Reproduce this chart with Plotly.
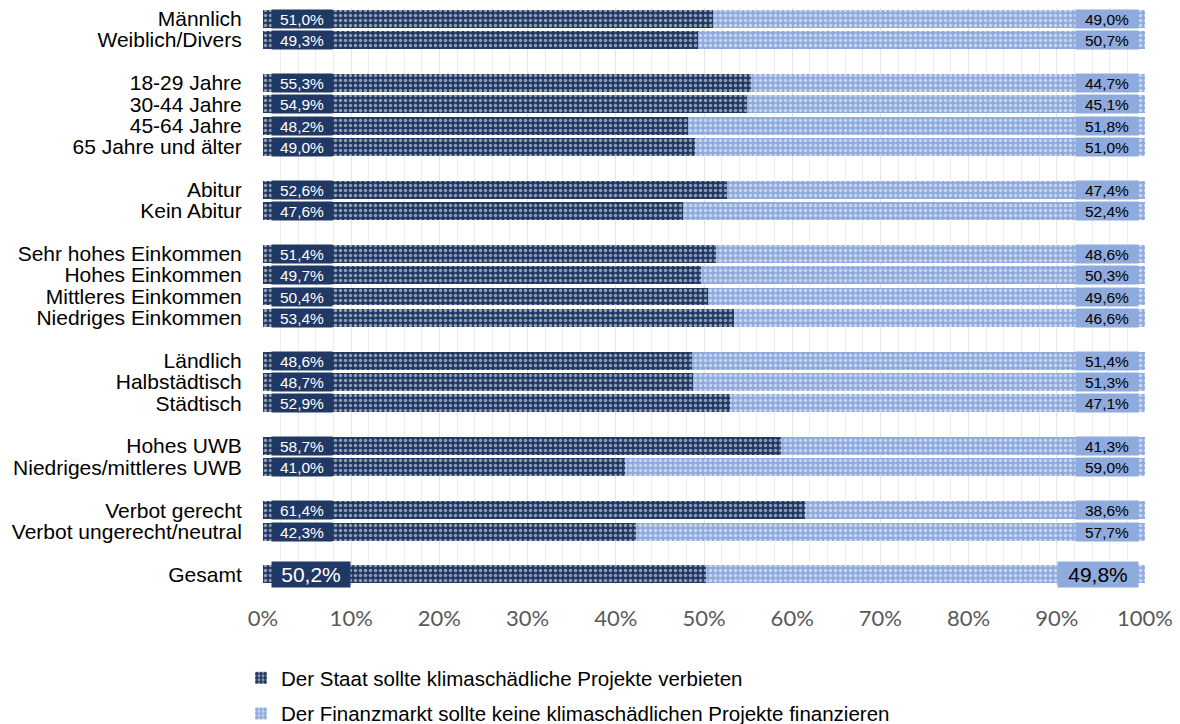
import plotly.graph_objects as go

categories = ["Männlich", "Weiblich/Divers",
              "18-29 Jahre", "30-44 Jahre", "45-64 Jahre", "65 Jahre und älter",
              "Abitur", "Kein Abitur",
              "Sehr hohes Einkommen", "Hohes Einkommen", "Mittleres Einkommen", "Niedriges Einkommen",
              "Ländlich", "Halbstädtisch", "Städtisch",
              "Hohes UWB", "Niedriges/mittleres UWB",
              "Verbot gerecht", "Verbot ungerecht/neutral",
              "Gesamt"]
group_sizes = [2, 4, 2, 4, 3, 2, 2, 1]
staat = [51.0, 49.3, 55.3, 54.9, 48.2, 49.0, 52.6, 47.6, 51.4, 49.7, 50.4, 53.4,
         48.6, 48.7, 52.9, 58.7, 41.0, 61.4, 42.3, 50.2]
finanz = [49.0, 50.7, 44.7, 45.1, 51.8, 51.0, 47.4, 52.4, 48.6, 50.3, 49.6, 46.6,
          51.4, 51.3, 47.1, 41.3, 59.0, 38.6, 57.7, 49.8]
series_names = ["Der Staat sollte klimaschädliche Projekte verbieten",
                "Der Finanzmarkt sollte keine klimaschädlichen Projekte finanzieren"]
xticks = [0, 10, 20, 30, 40, 50, 60, 70, 80, 90, 100]
xtick_labels = [f"{v}%" for v in xticks]

NAVY = "#203864"
LIGHT = "#8FAADC"
FONT = "Arial, Liberation Sans"

# figure is placed 8px from the page corner (default body margin)
W, H = 1172, 716

# slot positions (blank slot between groups)
pos = []
slot = 0
for n in group_sizes:
    for _ in range(n):
        pos.append(slot)
        slot += 1
    slot += 1
last = pos[-1]

def fmt(v):
    return f"{v:.1f}".replace(".", ",") + "%"

fig = go.Figure()
fig.add_trace(go.Bar(
    y=pos, x=staat, orientation="h", name=series_names[0], width=0.84,
    legendgroup="a",
    marker=dict(color=NAVY, line=dict(width=0),
                pattern=dict(shape=".", bgcolor=NAVY, fgcolor="white", size=5, solidity=0.38)),
    hoverinfo="skip"))
fig.add_trace(go.Bar(
    y=pos, x=finanz, orientation="h", name=series_names[1], width=0.84,
    legendgroup="b",
    marker=dict(color=LIGHT, line=dict(width=0),
                pattern=dict(shape=".", bgcolor=LIGHT, fgcolor="white", size=5, solidity=0.38)),
    hoverinfo="skip"))

annotations = []
for i, (p, a, b) in enumerate(zip(pos, staat, finanz)):
    big = categories[i] == "Gesamt"
    fs = 21 if big else 15.5
    w = 76 if big else 58
    h = 23 if big else 16
    annotations.append(dict(x=0.9, y=p, xref="x", yref="y", xanchor="left", yanchor="middle",
                            text=fmt(a), showarrow=False, bgcolor=NAVY, width=w, height=h,
                            borderpad=1, align="center",
                            font=dict(family=FONT, size=fs, color="white")))
    annotations.append(dict(x=a + b - 0.7, y=p, xref="x", yref="y", xanchor="right", yanchor="middle",
                            text=fmt(b), showarrow=False, bgcolor=LIGHT, width=w + 2, height=h,
                            borderpad=1, align="center",
                            font=dict(family=FONT, size=fs, color="black")))

fig.update_layout(
    barmode="stack",
    width=W, height=H,
    margin=dict(l=255, r=35, t=0, b=139, autoexpand=False),
    plot_bgcolor="white", paper_bgcolor="white",
    annotations=annotations,
    legend=dict(orientation="v", xref="container", yref="container",
                x=233 / W, xanchor="left", y=1 - 650 / H, yanchor="top",
                font=dict(family=FONT, size=20.5, color="black"),
                tracegroupgap=6, bgcolor="rgba(0,0,0,0)"),
    xaxis=dict(range=[0, 100], tickvals=xticks, ticktext=xtick_labels,
               showgrid=True, gridcolor="#e3e3e3", gridwidth=1,
               minor=dict(dtick=2, showgrid=True, gridcolor="#ececec", gridwidth=1),
               zeroline=False, showline=False,
               ticks="outside", ticklen=14, tickcolor="rgba(0,0,0,0)",
               tickfont=dict(family="Lato, Open Sans", size=22, color="#595959")),
    yaxis=dict(range=[last + 0.5, -0.5], tickvals=pos, ticktext=categories,
               showgrid=False, zeroline=False, showline=False,
               ticks="outside", ticklen=16, tickcolor="rgba(0,0,0,0)",
               ticklabeloverflow="allow",
               tickfont=dict(family=FONT, size=21, color="black")),
)

fig.write_html("out.html")
